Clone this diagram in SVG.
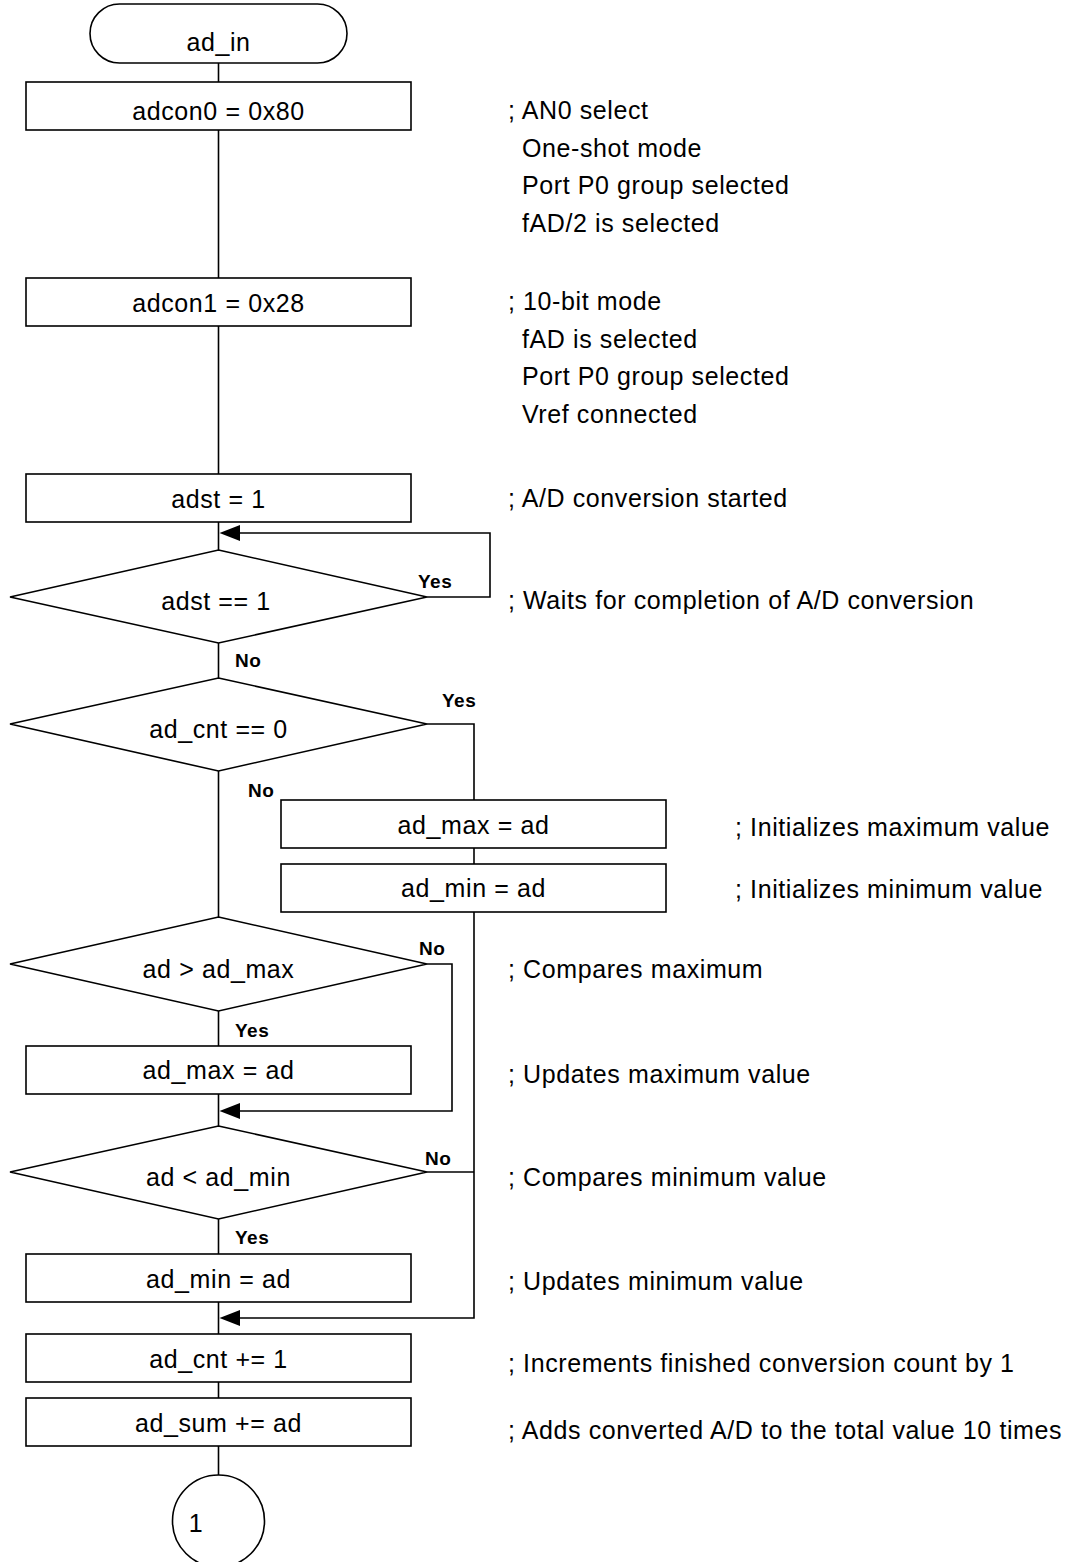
<svg xmlns="http://www.w3.org/2000/svg" width="1074" height="1562" viewBox="0 0 1074 1562">
<style>
  .shape { fill: #ffffff; stroke: #000000; stroke-width: 1.6; }
  .line { fill: none; stroke: #000000; stroke-width: 1.6; }
  .t { font-family: "Liberation Sans", Arial, Helvetica, sans-serif; font-size: 25px; letter-spacing: 0.6px; fill: #000000; }
  .c { text-anchor: middle; }
  .lbl { font-family: "Liberation Sans", Arial, Helvetica, sans-serif; font-size: 19px; font-weight: bold; letter-spacing: 0.5px; fill: #000000; }
  .arrow { fill: #000000; stroke: none; }
</style>
<rect width="1074" height="1562" fill="#ffffff"/>

<g id="connectors">
  <path class="line" d="M218.5 63 V82"/>
  <path class="line" d="M218.5 130 V278"/>
  <path class="line" d="M218.5 326 V474"/>
  <path class="line" d="M218.5 522 V550"/>
  <path class="line" d="M427 597 H490 V533 H238"/>
  <polygon class="arrow" points="219.5,533 240,525 240,541"/>
  <path class="line" d="M218.5 643 V678"/>
  <path class="line" d="M427 724 H474 V800"/>
  <path class="line" d="M474 848 V864"/>
  <path class="line" d="M474 912 V1318 H238"/>
  <polygon class="arrow" points="219.5,1318 240,1310 240,1326"/>
  <path class="line" d="M218.5 771 V917"/>
  <path class="line" d="M427 964 H452 V1111 H238"/>
  <polygon class="arrow" points="219.5,1111 240,1103 240,1119"/>
  <path class="line" d="M218.5 1011 V1046"/>
  <path class="line" d="M218.5 1094 V1126"/>
  <path class="line" d="M427 1172 H474"/>
  <path class="line" d="M218.5 1219 V1254"/>
  <path class="line" d="M218.5 1302 V1334"/>
  <path class="line" d="M218.5 1382 V1398"/>
  <path class="line" d="M218.5 1446 V1475"/>
  <text class="lbl" x="418" y="588">Yes</text>
  <text class="lbl" x="235" y="667">No</text>
  <text class="lbl" x="442" y="707">Yes</text>
  <text class="lbl" x="248" y="797">No</text>
  <text class="lbl" x="419" y="955">No</text>
  <text class="lbl" x="235" y="1037">Yes</text>
  <text class="lbl" x="425" y="1165">No</text>
  <text class="lbl" x="235" y="1244">Yes</text>
</g>

<g id="start">
  <rect class="shape" x="90" y="4" width="257" height="59" rx="29.5" ry="29.5"/>
  <text class="t c" x="218.5" y="51">ad_in</text>
</g>
<g id="adcon0">
  <rect class="shape" x="26" y="82" width="385" height="48"/>
  <text class="t c" x="218.5" y="120">adcon0 = 0x80</text>
</g>
<g id="adcon1">
  <rect class="shape" x="26" y="278" width="385" height="48"/>
  <text class="t c" x="218.5" y="312">adcon1 = 0x28</text>
</g>
<g id="adst_set">
  <rect class="shape" x="26" y="474" width="385" height="48"/>
  <text class="t c" x="218.5" y="508">adst = 1</text>
</g>
<g id="adst_check">
  <polygon class="shape" points="218.5,550 427,597 218.5,643 10,597"/>
  <text class="t c" x="216" y="610">adst == 1</text>
</g>
<g id="adcnt_check">
  <polygon class="shape" points="218.5,678 427,724 218.5,771 10,724"/>
  <text class="t c" x="218.5" y="738">ad_cnt == 0</text>
</g>
<g id="init_max">
  <rect class="shape" x="281" y="800" width="385" height="48"/>
  <text class="t c" x="473.5" y="834">ad_max = ad</text>
</g>
<g id="init_min">
  <rect class="shape" x="281" y="864" width="385" height="48"/>
  <text class="t c" x="473.5" y="897">ad_min = ad</text>
</g>
<g id="cmp_max">
  <polygon class="shape" points="218.5,917 427,964 218.5,1011 10,964"/>
  <text class="t c" x="218.5" y="978">ad &gt; ad_max</text>
</g>
<g id="upd_max">
  <rect class="shape" x="26" y="1046" width="385" height="48"/>
  <text class="t c" x="218.5" y="1079">ad_max = ad</text>
</g>
<g id="cmp_min">
  <polygon class="shape" points="218.5,1126 427,1172 218.5,1219 10,1172"/>
  <text class="t c" x="218.5" y="1186">ad &lt; ad_min</text>
</g>
<g id="upd_min">
  <rect class="shape" x="26" y="1254" width="385" height="48"/>
  <text class="t c" x="218.5" y="1288">ad_min = ad</text>
</g>
<g id="inc_cnt">
  <rect class="shape" x="26" y="1334" width="385" height="48"/>
  <text class="t c" x="218.5" y="1368">ad_cnt += 1</text>
</g>
<g id="add_sum">
  <rect class="shape" x="26" y="1398" width="385" height="48"/>
  <text class="t c" x="218.5" y="1432">ad_sum += ad</text>
</g>
<g id="connector_1">
  <circle class="shape" cx="218.5" cy="1521" r="46"/>
  <text class="t c" x="196" y="1532">1</text>
</g>

<g id="comments">
  <text class="t" x="508" y="119">; AN0 select</text>
  <text class="t" x="522" y="156.5">One-shot mode</text>
  <text class="t" x="522" y="194">Port P0 group selected</text>
  <text class="t" x="522" y="231.5">fAD/2 is selected</text>
  <text class="t" x="508" y="310">; 10-bit mode</text>
  <text class="t" x="522" y="347.5">fAD is selected</text>
  <text class="t" x="522" y="385">Port P0 group selected</text>
  <text class="t" x="522" y="422.5">Vref connected</text>
  <text class="t" x="508" y="507">; A/D conversion started</text>
  <text class="t" x="508" y="609">; Waits for completion of A/D conversion</text>
  <text class="t" x="735" y="836">; Initializes maximum value</text>
  <text class="t" x="735" y="898">; Initializes minimum value</text>
  <text class="t" x="508" y="978">; Compares maximum</text>
  <text class="t" x="508" y="1083">; Updates maximum value</text>
  <text class="t" x="508" y="1186">; Compares minimum value</text>
  <text class="t" x="508" y="1290">; Updates minimum value</text>
  <text class="t" x="508" y="1372">; Increments finished conversion count by 1</text>
  <text class="t" x="508" y="1439">; Adds converted A/D to the total value 10 times</text>
</g>
</svg>
